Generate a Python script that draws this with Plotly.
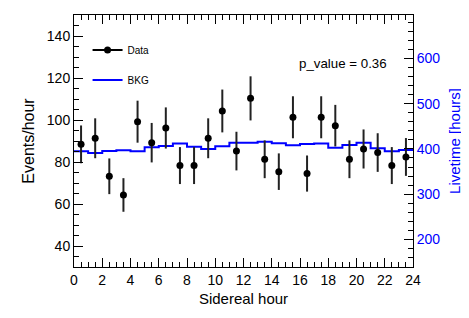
import plotly.graph_objects as go

# ---- data ----
hours = [0.5, 1.5, 2.5, 3.5, 4.5, 5.5, 6.5, 7.5, 8.5, 9.5, 10.5, 11.5,
         12.5, 13.5, 14.5, 15.5, 16.5, 17.5, 18.5, 19.5, 20.5, 21.5, 22.5, 23.5]
rate = [88.4, 91.3, 73.2, 64.3, 99.2, 89.2, 96.2, 78.3, 78.3, 91.3, 104.3, 85.2,
        110.3, 81.3, 75.4, 101.3, 74.5, 101.3, 97.3, 81.3, 86.2, 84.5, 78.3, 82.4]
rate_err = [9.0, 9.5, 8.5, 8.0, 10.0, 9.4, 9.8, 8.8, 8.8, 9.5, 10.2, 9.2,
            10.5, 9.0, 8.7, 10.0, 8.6, 10.0, 9.9, 9.0, 9.3, 9.2, 8.8, 9.0]
bin_edges = [0, 1, 2, 3, 4, 5, 6, 7, 8, 9, 10, 11, 12, 13, 14, 15, 16, 17, 18,
             19, 20, 21, 22, 23, 24]
bkg = [85.1, 84.3, 85.2, 85.6, 85.1, 87.0, 87.6, 88.8, 87.3, 86.2, 87.5, 89.2,
       89.2, 89.7, 88.9, 88.0, 88.6, 88.8, 86.8, 88.1, 89.2, 86.5, 85.1, 85.7]
p_value_text = "p_value = 0.36"

FONT = "Liberation Sans, Arial, Helvetica, sans-serif"

fig = go.Figure()

# BKG step histogram
fig.add_trace(go.Scatter(
    x=bin_edges, y=bkg + [bkg[-1]], mode="lines", line_shape="hv",
    line=dict(color="#0000ff", width=2), name="BKG", showlegend=False,
))

# Data points with error bars
fig.add_trace(go.Scatter(
    x=hours, y=rate, mode="markers",
    marker=dict(color="black", size=7),
    error_y=dict(type="data", array=rate_err, color="#222222", thickness=2, width=0),
    name="Data", showlegend=False,
))

# legend-only entries
fig.add_trace(go.Scatter(
    x=[None], y=[None], mode="lines+markers", name="Data",
    marker=dict(color="black", size=7), line=dict(color="black", width=2),
    legendgroup="a",
))
fig.add_trace(go.Scatter(
    x=[None], y=[None], mode="lines", name="BKG",
    line=dict(color="#0000ff", width=2), legendgroup="b",
))

# dummy trace to activate the right axis
fig.add_trace(go.Scatter(x=[None], y=[None], yaxis="y2", showlegend=False,
                         hoverinfo="skip"))

fig.add_annotation(
    x=0.93, y=0.808, xref="paper", yref="paper", xanchor="right", yanchor="middle",
    text=p_value_text, showarrow=False, font=dict(family=FONT, size=13.3, color="black"),
)

fig.update_layout(
    width=461, height=310,
    margin=dict(l=66, r=56, t=7, b=51, autoexpand=False),
    paper_bgcolor="white", plot_bgcolor="white",
    font=dict(family=FONT, color="black"),
    showlegend=True,
    legend=dict(
        x=0.04, y=0.919, xanchor="left", yanchor="top",
        bgcolor="rgba(0,0,0,0)", font=dict(family=FONT, size=10, color="black"),
        traceorder="grouped", tracegroupgap=11, itemwidth=30,
    ),
    xaxis=dict(
        range=[0, 24], dtick=2, tick0=0, automargin=False,
        showline=True, linecolor="black", linewidth=1, mirror="ticks",
        ticks="inside", ticklen=9, tickcolor="black", tickwidth=1,
        minor=dict(dtick=0.5, ticks="inside", ticklen=5, tickcolor="black"),
        showgrid=False, zeroline=False,
        tickfont=dict(family=FONT, size=14, color="black"),
        title=dict(text="Sidereal hour", font=dict(family=FONT, size=15, color="black"),
                   standoff=6),
    ),
    yaxis=dict(
        range=[30, 150], dtick=20, tick0=0, automargin=False,
        showline=True, linecolor="black", linewidth=1,
        ticks="inside", ticklen=9, tickcolor="black", tickwidth=1,
        minor=dict(dtick=5, ticks="inside", ticklen=5, tickcolor="black"),
        showgrid=False, zeroline=False,
        tickfont=dict(family=FONT, size=14, color="black"),
        title=dict(text="Events/hour", font=dict(family=FONT, size=16, color="black"),
                   standoff=8),
    ),
    yaxis2=dict(
        overlaying="y", side="right", range=[139, 696], dtick=100, tick0=0,
        automargin=False,
        showline=True, linecolor="black", linewidth=1,
        ticks="inside", ticklen=9, tickcolor="black", tickwidth=1,
        minor=dict(dtick=20, ticks="inside", ticklen=5, tickcolor="black"),
        showgrid=False, zeroline=False,
        tickfont=dict(family=FONT, size=14, color="#0000ff"),
        title=dict(text="Livetime [hours]", font=dict(family=FONT, size=15, color="#0000ff"),
                   standoff=10),
    ),
)

fig.write_html("out.html")
